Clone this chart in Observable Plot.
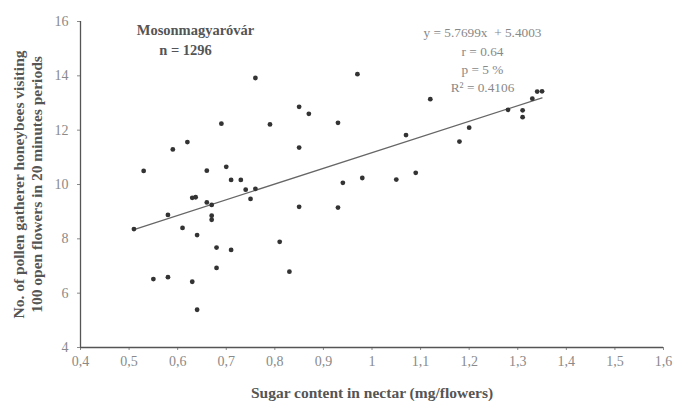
<!DOCTYPE html>
<html>
<head>
<meta charset="utf-8">
<script src="https://cdn.jsdelivr.net/npm/d3@7"></script>
<script src="https://cdn.jsdelivr.net/npm/@observablehq/plot@0.6"></script>
<style>
  html, body { margin: 0; padding: 0; background: #fff; }
  #chart svg { display: block; }
</style>
</head>
<body>
<div id="chart"></div>
<script>
// Sugar content in nectar (mg/flowers)
const sugar = [
  0.51, 0.53, 0.55, 0.58, 0.58, 0.59, 0.61, 0.62, 0.63, 0.637,
  0.63, 0.64, 0.64, 0.66, 0.66, 0.67, 0.67, 0.67, 0.68, 0.68,
  0.69, 0.70, 0.71, 0.71, 0.73, 0.74, 0.75, 0.76, 0.76, 0.79,
  0.81, 0.83, 0.85, 0.85, 0.85, 0.87, 0.93, 0.93, 0.94, 0.97,
  0.98, 1.05, 1.07, 1.09, 1.12, 1.18, 1.20, 1.28, 1.31, 1.31,
  1.33, 1.34, 1.35
];
// No. of pollen gatherer honeybees visiting 100 open flowers in 20 min
const bees = [
  8.36, 10.50, 6.52, 8.88, 6.59, 11.29, 8.40, 11.56, 9.51, 9.53,
  6.42, 8.14, 5.39, 10.51, 9.34, 9.25, 8.85, 8.70, 7.68, 6.93,
  12.24, 10.65, 10.17, 7.59, 10.17, 9.81, 9.47, 9.84, 13.92, 12.21,
  7.89, 6.79, 12.86, 11.36, 9.18, 12.60, 12.27, 9.15, 10.06, 14.06,
  10.24, 10.18, 11.82, 10.43, 13.14, 11.58, 12.09, 12.75, 12.73, 12.48,
  13.16, 13.42, 13.43
];
const xDomain = [0.4, 1.6];
const yDomain = [4, 16];
const xTicks = [0.4, 0.5, 0.6, 0.7, 0.8, 0.9, 1.0, 1.1, 1.2, 1.3, 1.4, 1.5, 1.6];
const yTicks = [4, 6, 8, 10, 12, 14, 16];
const slope = 5.7699;
const intercept = 5.4003;
const statsText = ["y = 5.7699x  + 5.4003", "r = 0.64", "p = 5 %", "R\u00B2 = 0.4106"];
const siteName = "Mosonmagyaróvár";
const nText = "n = 1296";
const xLabel = "Sugar content in nectar (mg/flowers)";
const yLabel = ["No. of pollen gatherer honeybees visiting", "100 open flowers in 20 minutes periods"];

const points = sugar.map((s, i) => ({x: s, y: bees[i]}));
const xMin = d3.min(sugar), xMax = d3.max(sugar);
const fit = [xMin, xMax].map(x => ({x, y: slope * x + intercept}));

const serif = "'Liberation Serif', 'Times New Roman', serif";
const fmt = d => d3.format(".1~f")(d).replace(".", ",");

const chart = Plot.plot({
  width: 676,
  height: 401,
  marginLeft: 80,
  marginRight: 13,
  marginTop: 21,
  marginBottom: 54,
  style: {fontFamily: serif, fontSize: "14px", color: "#8a8a8a", background: "#fff"},
  x: {domain: xDomain, ticks: xTicks, tickFormat: fmt, tickSize: 3, tickPadding: 6, label: null},
  y: {domain: yDomain, ticks: yTicks, tickSize: 3, tickPadding: 9, label: null},
  marks: [
    Plot.ruleX([xDomain[0]], {stroke: "#555", strokeWidth: 1.3}),
    Plot.ruleY([yDomain[0]], {stroke: "#555", strokeWidth: 1.3}),
    Plot.line(fit, {x: "x", y: "y", stroke: "#666", strokeWidth: 1.3}),
    Plot.dot(points, {x: "x", y: "y", r: 2.4, fill: "#333", stroke: "none"}),
    Plot.text([siteName], {frameAnchor: "top-left", dx: 115, dy: 9, fontSize: 14.5, fontWeight: "bold", fill: "#555", textAnchor: "middle", lineAnchor: "middle"}),
    Plot.text([nText], {frameAnchor: "top-left", dx: 105, dy: 29, fontSize: 14.5, fontWeight: "bold", fill: "#555", textAnchor: "middle", lineAnchor: "middle"}),
    Plot.text([statsText.join("\n")], {frameAnchor: "top-left", dx: 402, dy: 3, fontSize: 13.3, fill: "#888", textAnchor: "middle", lineAnchor: "top", lineHeight: 1.37}),
    Plot.text([xLabel], {frameAnchor: "bottom", dy: 46, fontSize: 15.5, fontWeight: "bold", fill: "#555", lineAnchor: "middle"}),
    Plot.text([yLabel.join("\n")], {frameAnchor: "left", dx: -53, rotate: -90, fontSize: 15.5, fontWeight: "bold", fill: "#555", lineAnchor: "middle", textAnchor: "middle", lineHeight: 1.16})
  ]
});
document.getElementById("chart").appendChild(chart);
</script>
</body>
</html>
